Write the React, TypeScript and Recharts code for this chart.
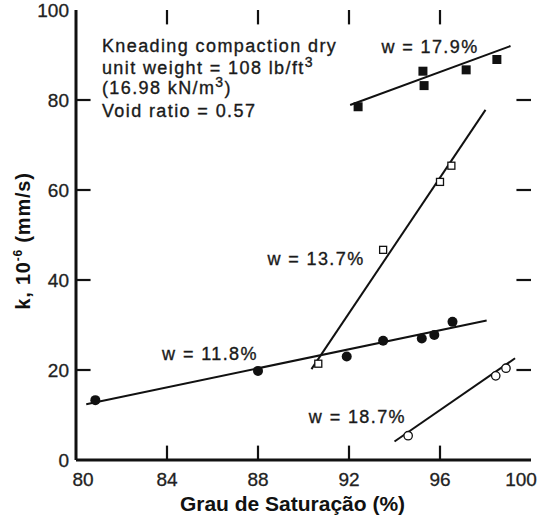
import React from "react";
import { ScatterChart, Scatter, XAxis, YAxis, ReferenceLine, ReferenceDot } from "recharts";

// measured permeability, k (10^-6 mm/s) vs degree of saturation (%)
const w179 = [
  { x: 92.4, y: 78.5 },
  { x: 95.25, y: 86.4 },
  { x: 95.3, y: 83.2 },
  { x: 97.15, y: 86.7 },
  { x: 98.5, y: 89.0 },
];
const w137 = [
  { x: 90.65, y: 21.4 },
  { x: 93.5, y: 46.7 },
  { x: 96.0, y: 61.8 },
  { x: 96.5, y: 65.4 },
];
const w118 = [
  { x: 80.85, y: 13.3 },
  { x: 88.0, y: 19.8 },
  { x: 91.9, y: 23.0 },
  { x: 93.5, y: 26.5 },
  { x: 95.2, y: 27.0 },
  { x: 95.75, y: 27.8 },
  { x: 96.55, y: 30.7 },
];
const w187 = [
  { x: 94.6, y: 5.4 },
  { x: 98.45, y: 18.7 },
  { x: 98.9, y: 20.4 },
];

// fitted trend lines (end points)
const fit179 = [{ x: 92.05, y: 78.9 }, { x: 99.1, y: 92.0 }];
const fit137 = [{ x: 90.35, y: 20.2 }, { x: 98.0, y: 77.8 }];
const fit118 = [{ x: 80.45, y: 12.4 }, { x: 98.05, y: 31.0 }];
const fit187 = [{ x: 94.0, y: 4.1 }, { x: 99.3, y: 22.6 }];

const curveNames = ["w = 17.9%", "w = 13.7%", "w = 11.8%", "w = 18.7%"];
const curveNameAt = [
  { x: 95.56, y: 90.4 },
  { x: 90.55, y: 43.3 },
  { x: 85.89, y: 22.2 },
  { x: 92.37, y: 8.2 },
];

const xTicks = [80, 84, 88, 92, 96, 100];
const yTicks = [0, 20, 40, 60, 80, 100];
const xInner = [84, 88, 92, 96];
const yInner = [20, 40, 60, 80];

const FONT = "'Liberation Sans', Arial, Helvetica, sans-serif";
const INK = "#111";

const FilledSquare = (p: any) => <rect x={p.cx - 4.5} y={p.cy - 4.5} width={9} height={9} fill={INK} />;
const OpenSquare = (p: any) => (
  <rect x={p.cx - 3.5} y={p.cy - 3.5} width={7} height={7} fill="#fff" stroke={INK} strokeWidth={1.3} />
);
const FilledCircle = (p: any) => <circle cx={p.cx} cy={p.cy} r={5} fill={INK} />;
const OpenCircle = (p: any) => <circle cx={p.cx} cy={p.cy} r={4.2} fill="#fff" stroke={INK} strokeWidth={1.3} />;

// old print type is a bit heavier than the plain face
const textStyle = {
  fontFamily: FONT, fontSize: 18, letterSpacing: 1.4, fill: "#1a1a1a", stroke: "#1a1a1a", strokeWidth: 0.35,
};

const curveLabel = (text: string) => (p: any) => (
  <text x={p.viewBox.x} y={p.viewBox.y} textAnchor="middle" style={textStyle}>
    {text}
  </text>
);

const NoteBlock = (p: any) => {
  const { x, y } = p.viewBox;
  return (
    <text x={x} y={y} style={textStyle}>
      <tspan x={x} dy={0}>Kneading compaction dry</tspan>
      <tspan x={x} dy={22}>unit weight = 108 lb/ft</tspan>
      <tspan dy={-7} fontSize={14}>3</tspan>
      <tspan x={x} dy={27}>(16.98 kN/m</tspan>
      <tspan dy={-7} fontSize={14}>3</tspan>
      <tspan dy={7}>)</tspan>
      <tspan x={x} dy={23}>Void ratio = 0.57</tspan>
    </text>
  );
};

const XTitle = (p: any) => {
  const vb = p.viewBox;
  return (
    <text x={vb.x + vb.width / 2 - 11} y={vb.y + 51} textAnchor="middle"
      style={{ fontFamily: FONT, fontSize: 21, fontWeight: 700, fill: "#111" }}>
      Grau de Saturação (%)
    </text>
  );
};

const YTitle = () => {
  const cx = 30;
  const cy = 241;
  return (
    <text x={cx} y={cy} textAnchor="middle" transform={`rotate(-90, ${cx}, ${cy})`}
      style={{ fontFamily: FONT, fontSize: 20, fontWeight: 700, letterSpacing: 0.8, fill: "#111" }}>
      k, 10<tspan fontSize={12} dy={-8}>-6</tspan><tspan dy={8}> (mm/s)</tspan>
    </text>
  );
};

const tickFont = { fontFamily: FONT, fontSize: 19, fill: "#222", stroke: "#222", strokeWidth: 0.3 };

// the end labels of the x axis sit a little inside the frame
const XTick = (p: any) => {
  const v = p.payload.value;
  const shift = v === 80 ? 7 : v === 100 ? -10 : 0;
  return (
    <text x={p.x + shift} y={p.y + 26} textAnchor="middle" style={tickFont}>{v}</text>
  );
};
const YTick = (p: any) => (
  <text x={p.x - 7} y={p.y + 7} textAnchor="end" style={tickFont}>{p.payload.value}</text>
);

const frame = { stroke: INK, strokeWidth: 3 };
const TICK_X = 0.64; // inward tick length, x units
const TICK_Y = 3.2; // inward tick length, y units

export default function App() {
  return (
    <div style={{ position: "absolute", left: 0, top: 0, background: "#fff" }}>
      <ScatterChart width={537} height={517} margin={{ top: 10, right: 6, bottom: 0, left: 16 }}>
        <XAxis xAxisId="b" dataKey="x" type="number" domain={[80, 100]} ticks={xTicks} height={57}
          axisLine={frame} tickLine={false} tickSize={0} tickMargin={0} tick={XTick} interval={0}
          label={<XTitle />} />
        <XAxis xAxisId="t" dataKey="x" type="number" orientation="top" domain={[80, 100]} ticks={xTicks} height={0}
          axisLine={frame} tickLine={false} tick={false} />
        <YAxis yAxisId="l" dataKey="y" type="number" domain={[0, 100]} ticks={yTicks} width={60}
          axisLine={frame} tickLine={false} tickSize={0} tickMargin={0} tick={YTick} interval={0}
          label={<YTitle />} />
        <YAxis yAxisId="r" dataKey="y" type="number" orientation="right" domain={[0, 100]} ticks={yTicks} width={0}
          axisLine={frame} tickLine={false} tick={false} />

        {xInner.map((v) => (
          <ReferenceLine key={`xb${v}`} xAxisId="b" yAxisId="l" segment={[{ x: v, y: 0 }, { x: v, y: TICK_Y }]}
            stroke={INK} strokeWidth={2.2} />
        ))}
        {xInner.map((v) => (
          <ReferenceLine key={`xt${v}`} xAxisId="b" yAxisId="l" segment={[{ x: v, y: 100 }, { x: v, y: 100 - TICK_Y }]}
            stroke={INK} strokeWidth={2.2} />
        ))}
        {yInner.map((v) => (
          <ReferenceLine key={`yl${v}`} xAxisId="b" yAxisId="l" segment={[{ x: 80, y: v }, { x: 80 + TICK_X, y: v }]}
            stroke={INK} strokeWidth={2.2} />
        ))}
        {yInner.map((v) => (
          <ReferenceLine key={`yr${v}`} xAxisId="b" yAxisId="l" segment={[{ x: 100, y: v }, { x: 100 - TICK_X, y: v }]}
            stroke={INK} strokeWidth={2.2} />
        ))}

        {[fit179, fit137, fit118, fit187].map((seg, i) => (
          <ReferenceLine key={i} xAxisId="b" yAxisId="l" segment={seg} stroke={INK} strokeWidth={2} />
        ))}

        <Scatter xAxisId="b" yAxisId="l" data={w179} dataKey="y" shape={FilledSquare} isAnimationActive={false} />
        <Scatter xAxisId="b" yAxisId="l" data={w137} dataKey="y" shape={OpenSquare} isAnimationActive={false} />
        <Scatter xAxisId="b" yAxisId="l" data={w118} dataKey="y" shape={FilledCircle} isAnimationActive={false} />
        <Scatter xAxisId="b" yAxisId="l" data={w187} dataKey="y" shape={OpenCircle} isAnimationActive={false} />

        {curveNames.map((name, i) => (
          <ReferenceDot key={name} xAxisId="b" yAxisId="l" x={curveNameAt[i].x} y={curveNameAt[i].y} r={0}
            fill="none" stroke="none" label={curveLabel(name)} />
        ))}
        <ReferenceDot xAxisId="b" yAxisId="l" x={81.14} y={90.7} r={0} fill="none" stroke="none" label={NoteBlock} />
      </ScatterChart>
    </div>
  );
}
